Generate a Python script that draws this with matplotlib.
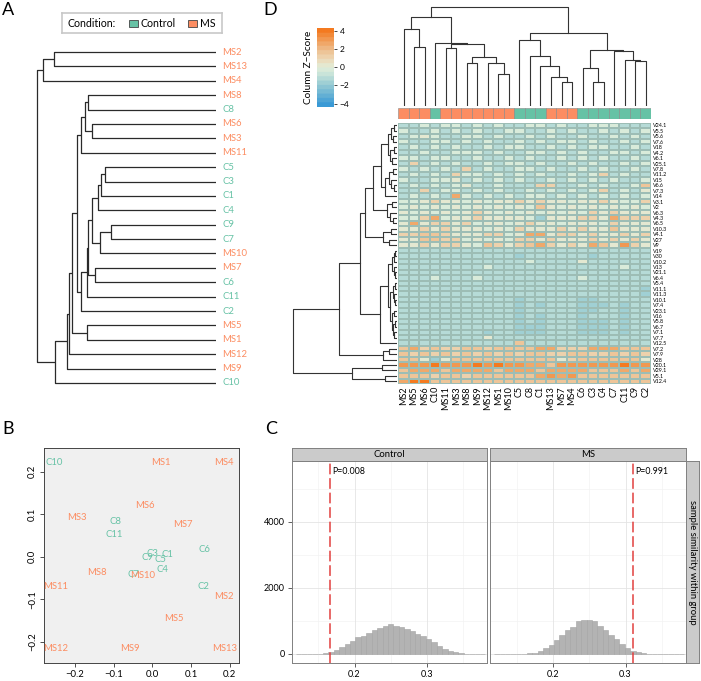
import numpy as np
import matplotlib
matplotlib.use("Agg")
import matplotlib.pyplot as plt
from matplotlib.colors import LinearSegmentedColormap, BoundaryNorm
from matplotlib.patches import Rectangle

plt.rcParams["font.family"] = ["Lato", "DejaVu Sans"]

CTRL = "#66c2a5"
MSC = "#fc8d62"

# ---------------- panel A: sample dendrogram ----------------
A_LEAVES = ["MS2", "MS13", "MS4", "MS8", "C8", "MS6", "MS3", "MS11", "C5", "C3", "C1", "C4",
            "C9", "C7", "MS10", "MS7", "C6", "C11", "C2", "MS5", "MS1", "MS12", "MS9", "C10"]
# (height, left, right); height 0 = leaves, 1 = root
A_TREE = (1.0,
          (0.966, (0.905, "MS2", "MS13"), "MS4"),
          (0.899,
           (0.832,
            (0.821,
             (0.804,
              (0.777,
               (0.754, (0.732, (0.715, "MS8", "C8"), (0.693, "MS6", "MS3")), "MS11"),
               (0.754,
                (0.721,
                 (0.715,
                  (0.693,
                   (0.659, (0.642, (0.620, "C5", "C3"), "C1"), "C4"),
                   (0.648, (0.587, "C9", "C7"), "MS10")),
                  (0.676, "MS7", "C6")),
                 "C11"),
                "C2")),
              (0.721, "MS5", "MS1")),
             "MS12"),
            "MS9"),
           "C10"))

# ---------------- panel B: MDS-like scatter ----------------
B_LABELS = ["C10", "MS1", "MS4", "MS6", "MS3", "C8", "MS7", "C11", "C6", "C3", "C1", "C9",
            "C5", "C4", "MS8", "C7", "MS10", "MS11", "C2", "MS2", "MS5", "MS12", "MS9", "MS13"]
B_X = [-0.254, 0.021, 0.185, -0.019, -0.194, -0.094, 0.080, -0.099, 0.134, 0.000, 0.038, -0.013,
       0.021, 0.026, -0.142, -0.050, -0.025, -0.249, 0.131, 0.185, 0.056, -0.249, -0.058, 0.187]
B_Y = [0.222, 0.222, 0.222, 0.121, 0.093, 0.082, 0.075, 0.053, 0.016, 0.008, 0.005, -0.002,
       -0.006, -0.031, -0.038, -0.041, -0.045, -0.071, -0.071, -0.094, -0.146, -0.216, -0.216, -0.216]

# ---------------- panel D: heatmap ----------------
D_COLS = ["MS2", "MS5", "MS6", "C10", "MS11", "MS3", "MS8", "MS9", "MS12", "MS1", "MS10", "C5",
          "C8", "C1", "MS13", "MS7", "MS4", "C6", "C3", "C4", "C7", "C11", "C9", "C2"]
D_ROWS = ["V24.1", "V5.5", "V5.6", "V7.6", "V18", "V4.2", "V6.1", "V25.1", "V7.8", "V11.2", "V15",
          "V6.6", "V7.3", "V14", "V3.1", "V2", "V6.3", "V4.3", "V6.5", "V10.3", "V4.1", "V27", "V9",
          "V19", "V30", "V10.2", "V13", "V21.1", "V6.4", "V5.4", "V11.1", "V11.3", "V10.1", "V7.4",
          "V23.1", "V16", "V5.8", "V6.7", "V7.1", "V7.7", "V12.5", "V7.2", "V7.9", "V28", "V20.1",
          "V29.1", "V5.1", "V12.4"]
# one character per cell, z-score level (see LEVEL)
HEAT_ROWS = [
    "001011010100110100111000",
    "100101010011001010010101",
    "012100110100101001001010",
    "100110101001010110100101",
    "010101001011001010110010",
    "001001110100110101001101",
    "110110010010100101010010",
    "030101001011010010100101",
    "101010301001101001010010",
    "010103110101010010130100",
    "100112010101001010101001",
    "010101200100033001010014",
    "003011010100101010130102",
    "010105101010110101010101",
    "112322121223232212232113",
    "121212121212142121212121",
    "212121232121212121323222",
    "1135122322221b2223325333",
    "252332312212322122213222",
    "223232221213222323224222",
    "334432223312552332322323",
    "224433121213323222323232",
    "223233214323453232542632",
    "000000000000000000000000",
    "00000000000b000000b00000",
    "000000000000100002000000",
    "000000001000000000000100",
    "000000000000000000000000",
    "000100010000000001000000",
    "000000000000000000000000",
    "00000000000000000000000b",
    "00000000000000000000000b",
    "00000000000b00000bb00000",
    "00000000000b0b000bbb0b00",
    "00000000000b00000bb00b00",
    "00000000000b0b000b000b00",
    "00000000000b0b000bbb0b00",
    "00000000000bbb000bbb0b00",
    "00000000b00bbb000bbb0b00",
    "000000002000000000000000",
    "000000000004000000000000",
    "453433443444455333555444",
    "434343434343443344334343",
    "442b24444444444234444442",
    "666766676766554666666766",
    "455545555455545555444545",
    "444344344444456564444444",
    "577444444444444444444444",
]
LEVEL = {"c": -2.6, "b": -1.8, "0": -1.0, "1": -0.3, "2": 0.3, "3": 1.0,
         "4": 1.7, "5": 2.5, "6": 3.3, "7": 4.0}

# column dendrogram, heights in pixel-like units
COL_TREE = (98.7,
            (89.3,
             (76.7, 0, (59.3, 1, 2)),
             (63.3, 3, (61.7, (58.3, 4, 5), (48.7, (42.7, 6, 7), (42.7, 8, (31.7, 9, 10)))))),
            (73.3,
             (66.0, 11, (50.3, 12, (40.3, 13, (29.3, 14, (24.3, 15, 16))))),
             (56.0, (37.7, 17, (24.3, 18, 19)), (55.0, 20, (46.0, 21, (45.0, 22, 23))))))

# row dendrogram
ROW_T1 = (16, (9, (6, (3, 0, 1), (4, 2, 3)), (7, (3, 4, 5), (5, 6, 7))),
          (12, (8, (4, 8, 9), (6, 10, (3, 11, 12))), 13))
ROW_A = (24, ROW_T1, (10, (5, 14, 15), (7, 16, (4, 17, 18))))
ROW_B = (14, (6, 19, 20), (8, 21, 22))
ROW_M1 = (9, (5, (3, (2, 23, 24), 25), (3, 26, (2, 27, 28))),
          (7, (4, (2, 29, 30), (3, 31, (2, 32, 33))),
           (5, (3, 34, 35), (4, (2, 36, 37), (3, 38, 39)))))
ROW_TREE = (104,
            (58, (37, (32, ROW_A, ROW_B), (17, ROW_M1, 40)), (14, (8, 41, 42), 43)),
            (45, (15, 44, 45), (12, 46, 47)))

# ---------------- panel C: permutation histograms ----------------
BIN_START, BIN_W = 0.1225, 0.0075
CTRL_COUNTS = [0, 0, 2, 5, 12, 30, 60, 130, 200, 300, 400, 500, 560, 640, 730, 800, 850, 900,
               860, 820, 760, 700, 620, 540, 450, 350, 240, 160, 100, 55, 25, 10, 4, 1, 0]
MS_COUNTS = [0, 0, 0, 1, 3, 8, 20, 45, 90, 180, 280, 420, 580, 720, 830, 990, 1030, 1020,
             990, 860, 720, 590, 440, 290, 180, 100, 50, 22, 10, 4, 2, 1, 0, 0, 0]
OBS = {"Control": (0.166, "P=0.008"), "MS": (0.3105, "P=0.991")}

W, H = 701, 681
fig = plt.figure(figsize=(W / 100, H / 100), dpi=100)


def box(x0, y0, x1, y1):
    return fig.add_axes([x0 / W, 1 - y1 / H, (x1 - x0) / W, (y1 - y0) / H])


def draw_tree(ax, node, pos, orient, **kw):
    if not isinstance(node, tuple):
        return pos[node], 0.0
    h, a, b = node
    pa, ha = draw_tree(ax, a, pos, orient, **kw)
    pb, hb = draw_tree(ax, b, pos, orient, **kw)
    if orient == "left":
        ax.plot([ha, h, h, hb], [pa, pa, pb, pb], **kw)
    else:
        ax.plot([pa, pa, pb, pb], [ha, h, h, hb], **kw)
    return (pa + pb) / 2, h


def col_of(name):
    return CTRL if name.startswith("C") else MSC


# panel letters
for lab, (x, y) in {"A": (8, 10), "D": (270, 10), "B": (8, 429), "C": (271, 429)}.items():
    fig.text(x / W, 1 - y / H, lab, fontsize=13, ha="center", va="center")

# ---- A ----
axA = box(30, 45, 216, 390)
posA = {n: i for i, n in enumerate(A_LEAVES)}
draw_tree(axA, A_TREE, posA, "left", color="#2a2a2a", lw=0.9, solid_capstyle="butt")
axA.set_xlim(1.039, 0)
axA.set_ylim(23.49, -0.49)
axA.axis("off")
for n, i in posA.items():
    axA.annotate(n, (0, i), xytext=(4.5, 0), textcoords="offset points", color=col_of(n),
                 fontsize=6.8, va="center", ha="left", annotation_clip=False)

leg = box(62, 13, 222, 33)
leg.set_xlim(62, 222)
leg.set_ylim(33, 13)
leg.set_xticks([])
leg.set_yticks([])
for s in leg.spines.values():
    s.set_color("#c8c8c8")
    s.set_linewidth(1.2)
leg.text(68, 23.5, "Condition:", fontsize=7.6, va="center")
leg.add_patch(Rectangle((128.5, 19.5), 9, 7.5, facecolor=CTRL, edgecolor="#444", lw=0.6))
leg.text(140.5, 23.5, "Control", fontsize=7.6, va="center")
leg.add_patch(Rectangle((187.5, 19.5), 9, 7.5, facecolor=MSC, edgecolor="#444", lw=0.6))
leg.text(199.5, 23.5, "MS", fontsize=7.6, va="center")

# ---- B ----
axB = box(44, 448, 239, 663)
axB.set_facecolor("#f0f0f0")
for x, y, n in zip(B_X, B_Y, B_LABELS):
    axB.text(x, y, n, color=col_of(n), fontsize=6.8, ha="center", va="center")
axB.set_xlim(-0.280, 0.224)
axB.set_ylim(-0.250, 0.256)
axB.set_xticks([-0.2, -0.1, 0.0, 0.1, 0.2])
axB.set_yticks([-0.2, -0.1, 0.0, 0.1, 0.2])
axB.set_xticklabels(["\u22120.2", "\u22120.1", "0.0", "0.1", "0.2"])
axB.set_yticklabels(["\u22120.2", "\u22120.1", "0.0", "0.1", "0.2"], rotation=90, va="center")
axB.tick_params(labelsize=6.8, length=3, width=0.6, color="#333", pad=2)
for s in axB.spines.values():
    s.set_color("#444")
    s.set_linewidth(0.7)

# ---- D ----
cmap = LinearSegmentedColormap.from_list(
    "zs", [(0.0, "#3a9ad6"), (2.35 / 8.7, "#97cbd3"), (3.35 / 8.7, "#c2e1d9"),
           (4.35 / 8.7, "#e1eeda"), (5.35 / 8.7, "#edd8b6"), (6.35 / 8.7, "#eec091"),
           (1.0, "#f47a20")], N=256)
bounds = np.linspace(-4.35, 4.35, 19)
norm = BoundaryNorm(bounds, cmap.N)

Z = np.array([[LEVEL[c] for c in r] for r in HEAT_ROWS])
axH = box(398.3, 122.7, 651, 384)
axH.pcolormesh(Z, cmap=cmap, norm=norm, edgecolors="#9dbdb5", linewidth=0.3)
axH.set_xlim(0, len(D_COLS))
axH.set_ylim(len(D_ROWS), 0)
axH.yaxis.tick_right()
axH.set_yticks(np.arange(len(D_ROWS)) + 0.5)
axH.set_yticklabels(D_ROWS, fontsize=3.9)
axH.set_xticks(np.arange(len(D_COLS)) + 0.5)
axH.set_xticklabels(D_COLS, fontsize=6.5, rotation=90)
axH.tick_params(length=0, pad=1.5)
for s in axH.spines.values():
    s.set_visible(False)

axS = box(398.3, 108.3, 651, 119.3)
axS.bar(np.arange(len(D_COLS)) + 0.5, 1, width=1, color=[col_of(n) for n in D_COLS],
        edgecolor="#888", lw=0.4)
axS.set_xlim(0, len(D_COLS))
axS.set_ylim(0, 1)
axS.axis("off")

axCD = box(398.3, 4, 651, 106)
draw_tree(axCD, COL_TREE, {i: i + 0.5 for i in range(len(D_COLS))}, "top",
          color="#333", lw=0.8)
axCD.set_xlim(0, len(D_COLS))
axCD.set_ylim(0, 102)
axCD.axis("off")

axRD = box(290, 122.7, 397, 384)
draw_tree(axRD, ROW_TREE, {i: i + 0.5 for i in range(len(D_ROWS))}, "left",
          color="#333", lw=0.8)
axRD.set_xlim(107, 0)
axRD.set_ylim(len(D_ROWS), 0)
axRD.axis("off")

axCB = box(317, 27.7, 334, 106.7)
grad = np.linspace(-4.35, 4.35, 200).reshape(-1, 1)
axCB.imshow(grad, cmap=cmap, norm=norm, aspect="auto", origin="lower",
            extent=(0, 1, -4.35, 4.35))
axCB.set_xticks([])
axCB.yaxis.tick_right()
axCB.set_yticks([-4, -2, 0, 2, 4])
axCB.tick_params(labelsize=6, length=2.5, width=0.5, pad=1.5)
axCB.set_ylabel("Column Z\u2212Score", fontsize=7.2, labelpad=3)
for s in axCB.spines.values():
    s.set_visible(False)

# ---- C ----
centers = BIN_START + BIN_W * np.arange(len(CTRL_COUNTS))
panels = [("Control", CTRL_COUNTS, 291.7, 486.7), ("MS", MS_COUNTS, 490, 685.7)]
for k, (grp, counts, x0, x1) in enumerate(panels):
    ax = box(x0, 461, x1, 663.3)
    ax.set_xlim(0.113, 0.383)
    ax.set_ylim(-282, 5848)
    for g in [0.15, 0.25, 0.35]:
        ax.axvline(g, color="#f3f3f3", lw=0.5, zorder=0)
    for g in [1000, 3000, 5000]:
        ax.axhline(g, color="#f3f3f3", lw=0.5, zorder=0)
    for g in [0.2, 0.3]:
        ax.axvline(g, color="#e4e4e4", lw=0.6, zorder=0)
    for g in [0, 2000, 4000]:
        ax.axhline(g, color="#e4e4e4", lw=0.6, zorder=0)
    ax.bar(centers, counts, width=BIN_W, color="#b3b3b3", edgecolor="#a3a3a3", lw=0.4, zorder=2)
    xv, ptxt = OBS[grp]
    ax.axvline(xv, color="#e2403f", lw=1.1, dashes=(7, 2.5), zorder=3)
    ax.text(xv + 0.003, 5520, ptxt, fontsize=6.3, va="center", ha="left")
    ax.set_xticks([0.2, 0.3])
    ax.set_xticklabels(["0.2", "0.3"])
    ax.set_yticks([0, 2000, 4000])
    if k == 0:
        ax.tick_params(axis="y", labelsize=6.5, length=3, width=0.6, color="#444", pad=2)
    else:
        ax.tick_params(axis="y", left=False, labelleft=False)
    ax.tick_params(axis="x", labelsize=6.5, length=3, width=0.6, color="#444", pad=2)
    for s in ax.spines.values():
        s.set_color("#808080")
        s.set_linewidth(0.7)

    st = box(x0, 448.3, x1, 461)
    st.set_facecolor("#cbcbcb")
    st.set_xticks([])
    st.set_yticks([])
    for s in st.spines.values():
        s.set_color("#808080")
        s.set_linewidth(0.7)
    st.text(0.5, 0.5, grp, fontsize=6.8, ha="center", va="center", transform=st.transAxes)

rs = box(685.7, 461, 699, 663.3)
rs.set_facecolor("#cbcbcb")
rs.set_xticks([])
rs.set_yticks([])
for s in rs.spines.values():
    s.set_color("#808080")
    s.set_linewidth(0.7)
rs.text(0.5, 0.5, "sample similarity within group", fontsize=6.8, rotation=270,
        ha="center", va="center", transform=rs.transAxes)

fig.savefig("out.png", dpi=100)
